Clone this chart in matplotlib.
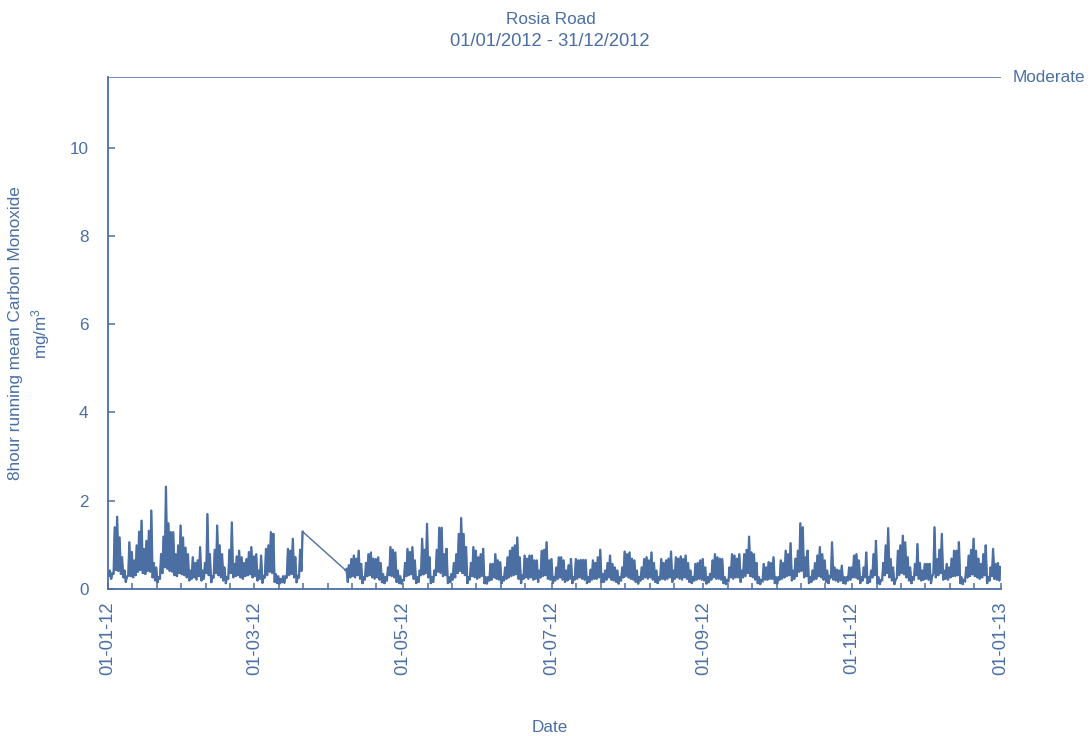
import numpy as np
import pandas as pd
import matplotlib
matplotlib.use("Agg")
import matplotlib.pyplot as plt
import matplotlib.dates as mdates

nan = np.nan

# Daily maximum of the 8-hour running mean CO (mg/m3), 1 Jan - 31 Dec 2012
co_daily_peak = [
    0.43, 0.35, 1.41, 1.65, 1.18, 0.73, 0.43, 0.28, 1.07, 0.85,
    0.66, 1.00, 1.31, 1.56, 0.92, 1.10, 1.33, 1.79, 0.60, 0.50,
    0.28, 0.80, 1.20, 2.33, 1.50, 1.30, 1.30, 0.80, 1.00, 1.45,
    1.18, 0.95, 0.80, 0.43, 0.73, 0.60, 0.66, 0.96, 0.43, 0.60,
    1.71, 0.80, 0.28, 0.90, 1.45, 1.00, 0.80, 0.50, 0.28, 0.90,
    1.52, 0.58, 0.75, 0.88, 0.73, 0.60, 0.69, 0.85, 0.96, 0.75,
    0.80, 0.43, 0.77, 0.28, 0.92, 1.00, 1.30, 1.26, 0.35, 0.30,
    0.24, 0.30, 0.28, 0.92, 0.88, 1.15, 0.73, 0.28, 0.90, 1.30,
    nan, nan, nan, nan, nan, nan, nan, nan, nan, nan,
    nan, nan, nan, nan, nan, nan, nan, 0.45, 0.55, 0.69,
    0.77, 0.70, 0.88, 0.58, 0.28, 0.60, 0.80, 0.84, 0.70, 0.69,
    0.73, 0.60, 0.35, 0.28, 0.50, 0.96, 0.90, 0.84, 0.43, 0.30,
    0.20, 0.60, 0.92, 0.85, 0.96, 0.66, 0.28, 0.43, 1.15, 0.90,
    1.49, 0.73, 0.28, 0.43, 0.90, 1.40, 1.40, 0.80, 0.92, 0.28,
    0.35, 0.60, 0.80, 1.26, 1.62, 1.26, 0.96, 0.28, 0.60, 0.96,
    0.88, 0.73, 0.80, 0.92, 0.28, 0.28, 0.58, 0.58, 0.80, 0.66,
    0.62, 0.28, 0.50, 0.73, 0.88, 0.95, 1.00, 1.18, 0.73, 0.32,
    0.77, 0.70, 0.77, 0.77, 0.66, 0.66, 0.43, 0.88, 0.90, 1.07,
    0.66, 0.69, 0.28, 0.50, 0.73, 0.73, 0.66, 0.43, 0.55, 0.69,
    0.28, 0.69, 0.66, 0.67, 0.67, 0.67, 0.28, 0.45, 0.66, 0.60,
    0.73, 0.90, 0.35, 0.43, 0.60, 0.77, 0.58, 0.50, 0.43, 0.28,
    0.50, 0.86, 0.80, 0.84, 0.70, 0.66, 0.43, 0.28, 0.50, 0.69,
    0.73, 0.66, 0.84, 0.60, 0.43, 0.28, 0.69, 0.60, 0.66, 0.70,
    0.86, 0.43, 0.73, 0.70, 0.75, 0.69, 0.77, 0.60, 0.43, 0.28,
    0.58, 0.60, 0.66, 0.69, 0.50, 0.28, 0.35, 0.66, 0.80, 0.73,
    0.70, 0.69, 0.28, 0.20, 0.50, 0.80, 0.77, 0.70, 0.80, 0.43,
    0.80, 0.90, 1.20, 0.84, 0.80, 0.60, 0.28, 0.20, 0.58, 0.50,
    0.62, 0.60, 0.73, 0.28, 0.28, 0.66, 0.60, 0.88, 0.80, 1.05,
    0.43, 0.70, 0.88, 1.50, 1.41, 0.73, 0.88, 0.28, 0.43, 0.60,
    0.77, 0.96, 0.80, 0.66, 0.43, 0.28, 1.07, 0.50, 0.45, 0.43,
    0.54, 0.28, 0.28, 0.50, 0.50, 0.77, 0.80, 0.66, 0.28, 0.50,
    0.84, 0.28, 0.43, 0.80, 1.10, 0.28, 0.20, 0.60, 1.00, 1.39,
    0.69, 0.50, 0.20, 0.88, 1.00, 1.22, 1.07, 0.73, 0.50, 0.28,
    0.58, 1.03, 0.60, 0.43, 0.58, 0.58, 0.58, 0.28, 1.41, 0.69,
    0.90, 1.26, 0.43, 0.58, 0.50, 0.70, 0.88, 0.88, 1.07, 0.28,
    0.20, 0.50, 0.77, 0.90, 1.15, 0.88, 0.70, 0.58, 0.80, 1.00,
    0.28, 0.50, 0.92, 0.58, 0.60, 0.50,
]

# Daily minimum of the 8-hour running mean CO (mg/m3)
co_daily_trough = [
    0.30, 0.22, 0.35, 0.42, 0.40, 0.33, 0.25, 0.15, 0.30, 0.28,
    0.25, 0.30, 0.38, 0.42, 0.35, 0.33, 0.40, 0.38, 0.25, 0.18,
    0.14, 0.22, 0.35, 0.48, 0.45, 0.40, 0.38, 0.30, 0.28, 0.35,
    0.32, 0.30, 0.25, 0.18, 0.22, 0.25, 0.20, 0.28, 0.18, 0.22,
    0.35, 0.30, 0.14, 0.25, 0.35, 0.30, 0.25, 0.18, 0.12, 0.22,
    0.35, 0.25, 0.28, 0.30, 0.25, 0.22, 0.28, 0.30, 0.32, 0.25,
    0.28, 0.18, 0.22, 0.13, 0.25, 0.30, 0.38, 0.35, 0.15, 0.12,
    0.11, 0.14, 0.13, 0.25, 0.30, 0.33, 0.25, 0.14, 0.25, 0.40,
    nan, nan, nan, nan, nan, nan, nan, nan, nan, nan,
    nan, nan, nan, nan, nan, nan, nan, 0.43, 0.15, 0.25,
    0.28, 0.25, 0.30, 0.22, 0.12, 0.20, 0.28, 0.30, 0.25, 0.22,
    0.25, 0.20, 0.14, 0.12, 0.18, 0.30, 0.28, 0.25, 0.15, 0.12,
    0.11, 0.20, 0.28, 0.30, 0.32, 0.22, 0.12, 0.15, 0.30, 0.32,
    0.35, 0.25, 0.12, 0.15, 0.30, 0.38, 0.35, 0.28, 0.30, 0.12,
    0.14, 0.20, 0.25, 0.35, 0.40, 0.35, 0.30, 0.12, 0.20, 0.28,
    0.25, 0.22, 0.25, 0.28, 0.12, 0.11, 0.18, 0.20, 0.25, 0.22,
    0.20, 0.12, 0.18, 0.22, 0.25, 0.28, 0.30, 0.32, 0.22, 0.12,
    0.22, 0.25, 0.22, 0.25, 0.20, 0.22, 0.15, 0.25, 0.28, 0.30,
    0.22, 0.20, 0.12, 0.18, 0.22, 0.25, 0.20, 0.15, 0.18, 0.22,
    0.12, 0.20, 0.22, 0.25, 0.22, 0.20, 0.12, 0.15, 0.20, 0.22,
    0.22, 0.25, 0.14, 0.15, 0.20, 0.25, 0.20, 0.18, 0.15, 0.11,
    0.18, 0.25, 0.28, 0.25, 0.22, 0.20, 0.15, 0.11, 0.18, 0.22,
    0.25, 0.22, 0.25, 0.20, 0.15, 0.12, 0.20, 0.22, 0.20, 0.22,
    0.25, 0.15, 0.22, 0.25, 0.22, 0.20, 0.25, 0.22, 0.15, 0.12,
    0.18, 0.20, 0.22, 0.20, 0.18, 0.11, 0.14, 0.20, 0.25, 0.22,
    0.22, 0.20, 0.12, 0.10, 0.18, 0.25, 0.22, 0.25, 0.25, 0.15,
    0.25, 0.28, 0.35, 0.28, 0.25, 0.20, 0.12, 0.10, 0.18, 0.20,
    0.20, 0.22, 0.22, 0.12, 0.11, 0.20, 0.22, 0.25, 0.28, 0.30,
    0.18, 0.22, 0.28, 0.38, 0.40, 0.25, 0.28, 0.12, 0.15, 0.20,
    0.22, 0.28, 0.25, 0.20, 0.15, 0.12, 0.25, 0.20, 0.18, 0.15,
    0.18, 0.12, 0.11, 0.18, 0.20, 0.25, 0.25, 0.22, 0.12, 0.18,
    0.25, 0.12, 0.15, 0.25, 0.30, 0.12, 0.10, 0.20, 0.30, 0.35,
    0.25, 0.18, 0.10, 0.25, 0.30, 0.35, 0.32, 0.25, 0.18, 0.12,
    0.20, 0.30, 0.22, 0.18, 0.20, 0.22, 0.20, 0.12, 0.35, 0.25,
    0.30, 0.35, 0.20, 0.22, 0.20, 0.25, 0.28, 0.28, 0.30, 0.12,
    0.10, 0.18, 0.25, 0.28, 0.32, 0.28, 0.25, 0.22, 0.25, 0.30,
    0.12, 0.18, 0.28, 0.22, 0.20, 0.18,
]

moderate_level = 11.6
moderate_label = "Moderate"
y_ticks = [0, 2, 4, 6, 8, 10]
title_site = "Rosia Road"
title_period = "01/01/2012 - 31/12/2012"
y_label = "8hour running mean Carbon Monoxide\nmg/m$^3$"
x_label = "Date"

BLUE = "#4a6fa5"
LINE = "#4b6fa3"

plt.rcParams["font.family"] = ["Liberation Sans", "DejaVu Sans"]
plt.rcParams["mathtext.fontset"] = "custom"
plt.rcParams["mathtext.rm"] = "Liberation Sans"
plt.rcParams["mathtext.it"] = "Liberation Sans"
plt.rcParams["mathtext.default"] = "rm"
FS = 12.3
FS_NUM = 13.2

# Build an intra-day series (morning trough, evening peak); days without
# data split the record into separate runs.
days = pd.date_range("2012-01-01", periods=len(co_daily_peak), freq="D")
times, values = [], []
runs, cur_t, cur_v = [], [], []
for d, lo, hi in zip(days, co_daily_trough, co_daily_peak):
    if np.isnan(hi):
        if cur_t:
            runs.append((cur_t, cur_v))
            cur_t, cur_v = [], []
        continue
    for t, v in ((d + pd.Timedelta(hours=7), lo), (d + pd.Timedelta(hours=18), hi)):
        times.append(t)
        values.append(v)
        cur_t.append(t)
        cur_v.append(v)
if cur_t:
    runs.append((cur_t, cur_v))

W, H = 1091, 736
fig = plt.figure(figsize=(W / 100, H / 100), dpi=100)
ax = fig.add_axes([108 / W, 1 - 589 / H, (1001 - 108) / W, (589 - 77) / H])

# Whole record as one thin line (bridges the missing period), dense runs bolder
ax.plot(times, values, color=LINE, lw=1.0)
for rt, rv in runs:
    ax.plot(rt, rv, color=LINE, lw=1.6, solid_joinstyle="miter")
ax.axhline(moderate_level, color=BLUE, lw=1.1)

start, end = pd.Timestamp("2012-01-01"), pd.Timestamp("2013-01-01")
ax.set_xlim(start, end)
ax.set_ylim(0, moderate_level)

# Axes styling
for s in ("top", "right"):
    ax.spines[s].set_visible(False)
for s in ("left", "bottom"):
    ax.spines[s].set_color(BLUE)
    ax.spines[s].set_linewidth(1.3)

majors = pd.date_range(start, end, freq="2MS")
minors = []
for a, b in zip(majors[:-1], majors[1:]):
    t = a + pd.Timedelta(days=10)
    while t < b - pd.Timedelta(days=4):
        minors.append(t)
        t += pd.Timedelta(days=10)
ax.set_xticks(majors)
ax.set_xticks(minors, minor=True)
ax.xaxis.set_major_formatter(mdates.DateFormatter("%d-%m-%y"))
ax.tick_params(axis="x", which="both", direction="in", length=4.5, width=1.1,
               color=BLUE, labelcolor=BLUE, labelsize=FS_NUM, labelrotation=90, pad=9)
for lbl in ax.get_xticklabels():
    lbl.set_horizontalalignment("center")

ax.set_yticks(y_ticks)
ax.tick_params(axis="y", direction="in", length=5, width=1.1, color=BLUE,
               labelcolor=BLUE, labelsize=FS, pad=14)

ax.text(1.0125, moderate_level, moderate_label, transform=ax.get_yaxis_transform(),
        color=BLUE, fontsize=FS, va="center", ha="left", clip_on=False)

fig.text(551 / W, 1 - 19 / H, title_site, color=BLUE, fontsize=FS, ha="center", va="center")
fig.text(550 / W, 1 - 42 / H, title_period, color=BLUE, fontsize=FS_NUM, ha="center", va="center")
fig.text(550 / W, 1 - 727 / H, x_label, color=BLUE, fontsize=FS, ha="center", va="center")
fig.text(30 / W, 1 - 333 / H, y_label, color=BLUE, fontsize=FS, ha="center", va="center",
         rotation=90, multialignment="center", linespacing=1.3)

fig.savefig("out.png", dpi=100)
